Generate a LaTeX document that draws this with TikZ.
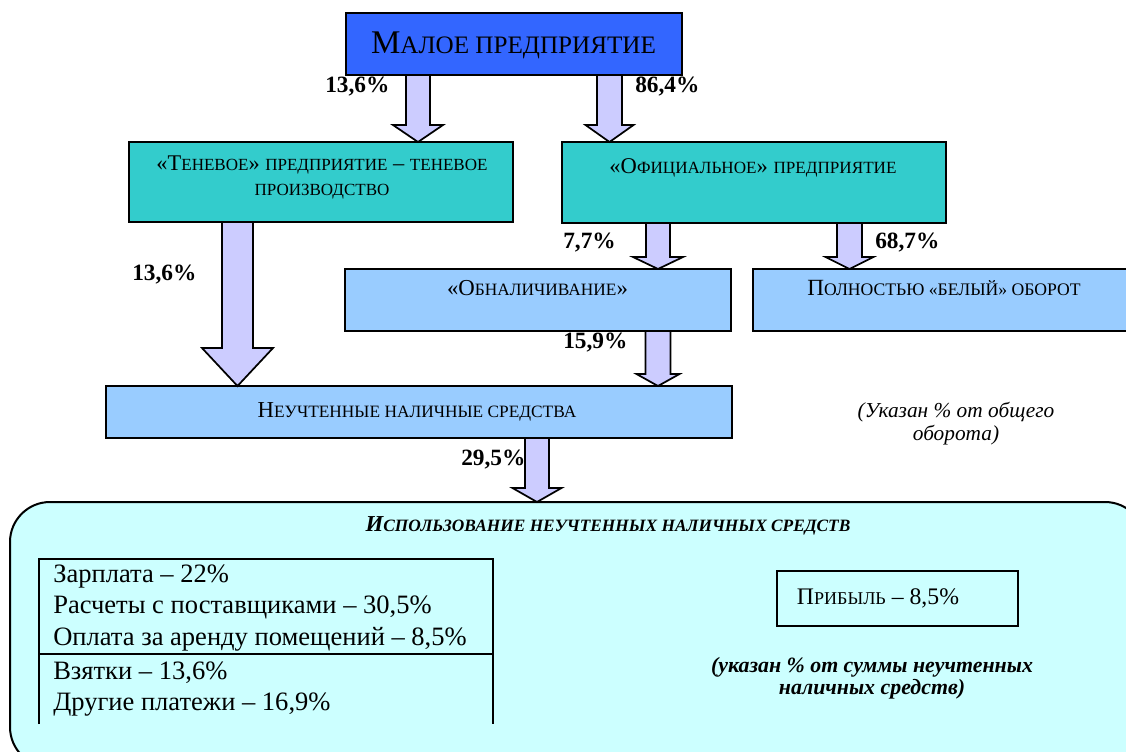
\documentclass[tikz,border=0pt]{standalone}
\usepackage{fontspec}
\setmainfont{Liberation Serif}
\newfontfamily\scf{Liberation Serif}[Scale=0.76]
\usetikzlibrary{calc}
\definecolor{topblue}{RGB}{51,102,255}
\definecolor{tealbox}{RGB}{51,204,204}
\definecolor{lblue}{RGB}{153,204,255}
\definecolor{lav}{RGB}{204,204,255}
\definecolor{cyanbg}{RGB}{204,255,255}
\newcommand\SC[1]{{\scf #1}}
\newcommand\mkbox[6]{\node[#6, minimum width={(#4-#2)*0.75pt}, minimum height={(#5-#3)*0.75pt}] (#1) at ({(#2+#4)/2},{(#3+#5)/2}) {};}
\newcommand\fatarrow[5]{\draw[fatarr] ($#1+(-#3,0)$) -- ($#1+(#3,0)$) -- ($#2+(#3,-#5)$) -- ($#2+(#4,-#5)$) -- #2 -- ($#2+(-#4,-#5)$) -- ($#2+(-#3,-#5)$) -- cycle;}
\begin{document}
\begin{tikzpicture}[x=0.75pt,y=-0.75pt,
  boxsty/.style={draw=black, line width=1.5pt, inner sep=0pt, outer sep=0pt, rectangle},
  fatarr/.style={draw=black, line width=1.3pt, fill=lav, line join=miter},
  pct/.style={anchor=base west, inner sep=0pt, font=\fontsize{17.5}{20}\selectfont\bfseries},
  txt/.style={anchor=base, inner sep=0pt},
  listtxt/.style={anchor=base west, inner sep=0pt, font=\fontsize{19.9}{22}\selectfont}]
\useasboundingbox (0,0) rectangle (1126,751);
\clip (0,0) rectangle (1126,751);
% boxes
\mkbox{top}{346}{13}{682}{75}{boxsty, fill=topblue}
\mkbox{ten}{129}{142}{513}{222}{boxsty, fill=tealbox}
\mkbox{off}{562}{142}{946}{223}{boxsty, fill=tealbox}
\mkbox{obn}{345}{269}{731}{331}{boxsty, fill=lblue}
\mkbox{bel}{753}{269}{1140}{331}{boxsty, fill=lblue}
\mkbox{neu}{106}{386}{732}{438}{boxsty, fill=lblue}
\mkbox{use}{10}{502}{1145}{767}{boxsty, fill=cyanbg, rounded corners=30pt}
\mkbox{prof}{777}{571}{1018}{626}{boxsty, line width=1.2pt}
% arrow axes
\coordinate (c1) at (418,0);
\coordinate (c2) at (609.5,0);
\coordinate (c3) at (237.5,0);
\coordinate (c4) at (658,0);
\coordinate (c5) at (849.5,0);
\coordinate (c6) at (658,0);
\coordinate (c7) at (537,0);
\fatarrow{(c1 |- top.south)}{(c1 |- ten.north)}{12}{25}{17}
\fatarrow{(c2 |- top.south)}{(c2 |- off.north)}{12.5}{24}{17}
\fatarrow{(c3 |- ten.south)}{(c3 |- neu.north)}{15.5}{35.5}{38}
\fatarrow{(c4 |- off.south)}{(c4 |- obn.north)}{12}{25}{12}
\fatarrow{(c5 |- off.south)}{(c5 |- bel.north)}{12.5}{24}{12}
\fatarrow{(c6 |- obn.south)}{(c6 |- neu.north)}{12.5}{21.5}{12}
\fatarrow{(c7 |- neu.south)}{(c7 |- use.north)}{12}{24.5}{14}
% box texts
\node[txt, font=\fontsize{24.8}{28}\selectfont] (ttop) at (513.5,53) {М\SC{АЛОЕ ПРЕДПРИЯТИЕ}};
\node[txt, font=\fontsize{16.8}{18}\selectfont] (tten1) at (322,170) {«Т\SC{ЕНЕВОЕ}» \SC{ПРЕДПРИЯТИЕ} – \SC{ТЕНЕВОЕ}};
\node[txt, font=\fontsize{16.8}{18}\selectfont] (tten2) at (322,195) {\SC{ПРОИЗВОДСТВО}};
\node[txt, font=\fontsize{16.9}{18}\selectfont] (toff) at (753,173) {«О\SC{ФИЦИАЛЬНОЕ}» \SC{ПРЕДПРИЯТИЕ}};
\node[txt, font=\fontsize{17.1}{18}\selectfont] (tobn) at (537.5,295) {«О\SC{БНАЛИЧИВАНИЕ}»};
\node[txt, font=\fontsize{17.4}{18}\selectfont] (tbel) at (944,295) {П\SC{ОЛНОСТЬЮ «БЕЛЫЙ» ОБОРОТ}};
\node[txt, font=\fontsize{17.1}{18}\selectfont] (tneu) at (417,417) {Н\SC{ЕУЧТЕННЫЕ НАЛИЧНЫЕ СРЕДСТВА}};
\node[txt, font=\fontsize{17.1}{18}\selectfont\bfseries\itshape] (tuse) at (608,531) {И\SC{СПОЛЬЗОВАНИЕ НЕУЧТЕННЫХ НАЛИЧНЫХ СРЕДСТВ}};
\node[txt, font=\fontsize{17.8}{20}\selectfont] (tprof) at (878,604) {П\SC{РИБЫЛЬ} – 8,5\%};
% notes
\node[txt, font=\fontsize{16}{18}\selectfont\itshape] (n1a) at (956,417) {(Указан \% от общего};
\node[txt, font=\fontsize{16}{18}\selectfont\itshape] (n1b) at (956,440) {оборота)};
\node[txt, font=\fontsize{16.4}{18}\selectfont\bfseries\itshape] (n2a) at (872,672) {(указан \% от суммы неучтенных};
\node[txt, font=\fontsize{16.4}{18}\selectfont\bfseries\itshape] (n2b) at (872,694) {наличных средств)};
% percentages
\node[pct] (p1) at (325,92) {13,6\%};
\node[pct] (p2) at (635,92) {86,4\%};
\node[pct] (p3) at (563,248) {7,7\%};
\node[pct] (p4) at (875,248) {68,7\%};
\node[pct] (p5) at (132,280) {13,6\%};
\node[pct] (p6) at (563,348) {15,9\%};
\node[pct] (p7) at (461,465) {29,5\%};
% list table
\draw[line width=1.2pt] (39,724) -- (39,559) -- (493,559) -- (493,724);
\draw[line width=1.2pt] (39,654) -- (493,654);
\node[listtxt] (l1) at (53,582) {Зарплата – 22\%};
\node[listtxt] (l2) at (53,613) {Расчеты с поставщиками – 30,5\%};
\node[listtxt] (l3) at (53,645) {Оплата за аренду помещений – 8,5\%};
\node[listtxt] (l4) at (53,679) {Взятки – 13,6\%};
\node[listtxt] (l5) at (53,710) {Другие платежи – 16,9\%};
\end{tikzpicture}
\end{document}
